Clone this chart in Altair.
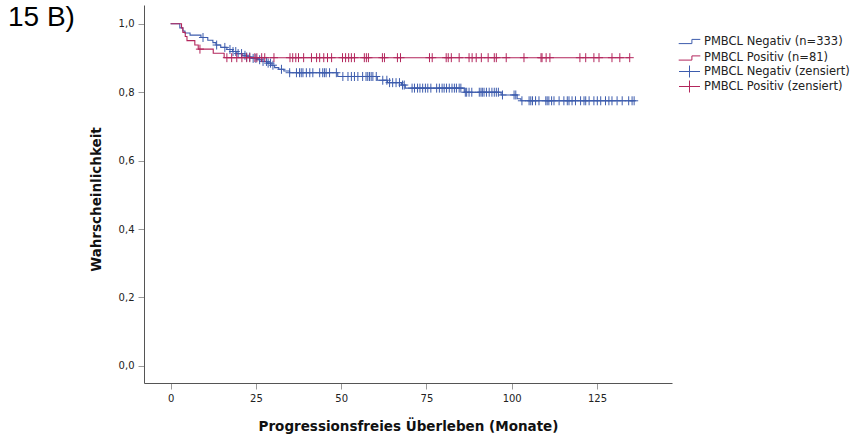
import altair as alt
import numpy as np
import pandas as pd

# ---------------- data ----------------
neg_event_t = [0, 2.7, 3.6, 4.2, 5.7, 8.9, 10.9, 12.4, 13.3, 14.7, 16.5, 18.2, 19.4,
               20.9, 22.3, 23.8, 25.3, 26.7, 28.2, 29.4, 30.5, 31.7, 33.2, 34.9,
               49.0, 60.6, 63.6, 67.7, 68.8, 86.1, 96.9, 101.6, 102.7]
neg_event_s = [1.0, 0.988, 0.979, 0.973, 0.967, 0.960, 0.952, 0.945, 0.938, 0.931,
               0.925, 0.919, 0.913, 0.908, 0.903, 0.899, 0.895, 0.890, 0.885, 0.879,
               0.872, 0.867, 0.862, 0.857, 0.846, 0.835, 0.828, 0.821, 0.812, 0.800,
               0.792, 0.781, 0.775]
neg_end_t = 136.1

pos_event_t = [0, 3.2, 3.6, 4.3, 4.8, 7.1, 8.1, 12.5, 15.7]
pos_event_s = [1.0, 0.988, 0.975, 0.963, 0.951, 0.938, 0.926, 0.914, 0.901]
pos_end_t = 134.6

neg_censor_t = [9.5, 13.5, 15.9, 17.4, 18.3, 19.1, 19.8, 20.8, 21.8, 22.3, 23.2, 24.2,
                25.0, 26.1, 27.1, 28.1, 28.6, 29.3, 30.0, 32.5, 34.9, 36.9, 37.8, 38.3,
                38.8, 39.8, 40.8, 41.7, 43.7, 44.6, 45.1, 45.6, 46.6, 48.6, 50.5, 52.0,
                53.0, 53.9, 54.9, 56.3, 57.3, 57.8, 58.3, 58.8, 59.3, 60.3, 62.2, 63.4,
                64.2, 65.1, 66.1, 67.1, 68.0, 68.5, 70.8, 71.5, 72.4, 73.1, 73.9, 74.7,
                75.4, 76.3, 78.0, 78.8, 79.6, 80.2, 80.9, 81.7, 82.5, 83.2, 83.8, 84.6,
                85.1, 86.4, 86.8, 87.5, 88.3, 90.5, 91.0, 91.4, 91.9, 92.6, 93.4, 94.2,
                94.9, 95.5, 96.1, 97.3, 100.7, 101.2, 103.0, 105.1, 105.6, 106.1, 107.0,
                108.0, 110.0, 110.4, 110.9, 111.7, 112.4, 113.9, 115.3, 116.3, 116.8,
                117.7, 118.7, 120.2, 121.2, 121.7, 122.7, 124.1, 125.1, 126.1, 127.5,
                128.5, 129.4, 130.9, 132.4, 134.3, 135.3, 135.9]

pos_censor_t = [8.6, 16.5, 17.9, 19.4, 20.9, 22.3, 23.2, 24.7, 25.3, 26.7, 27.6, 30.3,
                35.0, 35.8, 36.7, 37.5, 39.0, 41.3, 42.8, 43.7, 44.9, 46.0, 47.2, 50.4,
                51.3, 52.2, 53.0, 53.9, 56.8, 57.4, 58.0, 62.1, 62.7, 66.5, 67.4, 75.9,
                76.7, 80.8, 81.4, 82.3, 84.6, 87.5, 88.4, 89.6, 91.1, 93.1, 94.9, 95.5,
                98.4, 103.6, 108.6, 108.9, 110.1, 111.2, 120.0, 121.7, 124.1, 125.6,
                129.4, 131.7, 134.6]

line_labels = ["PMBCL Negativ (n=333)", "PMBCL Positiv (n=81)"]
censor_labels = ["PMBCL Negativ (zensiert)", "PMBCL Positiv (zensiert)"]
x_ticks = [0, 25, 50, 75, 100, 125]
y_ticks = [0.0, 0.2, 0.4, 0.6, 0.8, 1.0]

# ---------------- styling ----------------
BLUE = "#3d5cad"
RED = "#b3265c"
STEP = "M -1.8 0.35 L 0.4 0.35 L 0.4 -0.35 L 1.8 -0.35"
LEGEND_CROSS = "M -1.75 0 L 1.75 0 M 0 -1 L 0 1"
PLOT_CROSS = "M -0.9 0 L 0.9 0 M 0 -1 L 0 1"

# ---------------- tables ----------------
def curve(ts, ss, t_end, label):
    return pd.DataFrame({"t": list(ts) + [t_end], "s": list(ss) + [ss[-1]], "series": label})

def censor(ct, ts, ss, label):
    idx = np.searchsorted(np.array(ts), np.array(ct), side="right") - 1
    return pd.DataFrame({"t": ct, "s": np.array(ss)[idx], "series": label})

lines = pd.concat([
    curve(neg_event_t, neg_event_s, neg_end_t, line_labels[0]),
    curve(pos_event_t, pos_event_s, pos_end_t, line_labels[1]),
])
cens = pd.concat([
    censor(neg_censor_t, neg_event_t, neg_event_s, censor_labels[0]),
    censor(pos_censor_t, pos_event_t, pos_event_s, censor_labels[1]),
])

xs = alt.Scale(domain=[-7.8, 147], nice=False, zero=False)
ys = alt.Scale(domain=[-0.05, 1.055], nice=False, zero=False)

x_axis = alt.Axis(values=x_ticks, title="Progressionsfreies Überleben (Monate)",
                  titlePadding=16)
y_axis = alt.Axis(values=y_ticks, title="Wahrscheinlichkeit",
                  labelExpr="replace(format(datum.value, '.1f'), '.', ',')",
                  titlePadding=15, titleY=194)

legend_common = dict(title=None, orient="none", symbolSize=144, symbolStrokeWidth=1,
                     labelFontSize=11.5, labelFont="DejaVu Sans", labelColor="#222222",
                     labelOffset=8, padding=0)

line_layer = alt.Chart(lines).mark_line(interpolate="step-after", strokeWidth=1.1).encode(
    x=alt.X("t:Q", scale=xs, axis=x_axis),
    y=alt.Y("s:Q", scale=ys, axis=y_axis),
    stroke=alt.Stroke("series:N", scale=alt.Scale(domain=line_labels, range=[BLUE, RED]),
                      legend=alt.Legend(legendX=539, legendY=30, symbolType=STEP,
                                        rowPadding=4.5, **legend_common)),
)

point_layer = alt.Chart(cens).mark_point(filled=False, strokeWidth=1, size=81, opacity=1,
                                         shape=PLOT_CROSS).encode(
    x=alt.X("t:Q", scale=xs),
    y=alt.Y("s:Q", scale=ys),
    color=alt.Color("series:N", scale=alt.Scale(domain=censor_labels, range=[BLUE, RED]),
                    legend=alt.Legend(legendX=539, legendY=60, symbolType=LEGEND_CROSS,
                                      rowPadding=-5, **legend_common)),
)

chart = alt.layer(line_layer, point_layer).properties(
    width=528, height=378,
    padding={"left": 144, "top": 5, "right": 182, "bottom": 58},
    autosize=alt.AutoSizeParams(type="none"),
    title=alt.TitleParams("15 B)", anchor="start", frame="group", orient="top",
                          font="Liberation Sans", fontSize=28, fontWeight="normal",
                          color="#000000", offset=0, baseline="alphabetic",
                          dx=-136, dy=49),
).configure_view(stroke=None).configure_axis(
    grid=False,
    domainColor="#555555",
    domainWidth=1,
    tickColor="#9a9a9a",
    tickSize=6,
    labelFont="DejaVu Sans",
    labelFontSize=10,
    labelColor="#222222",
    labelPadding=4,
    titleFont="DejaVu Sans",
    titleFontSize=13.5,
    titleFontWeight="bold",
    titleColor="#111111",
)

chart.save("out.html", embed_options={"renderer": "svg", "actions": False})
